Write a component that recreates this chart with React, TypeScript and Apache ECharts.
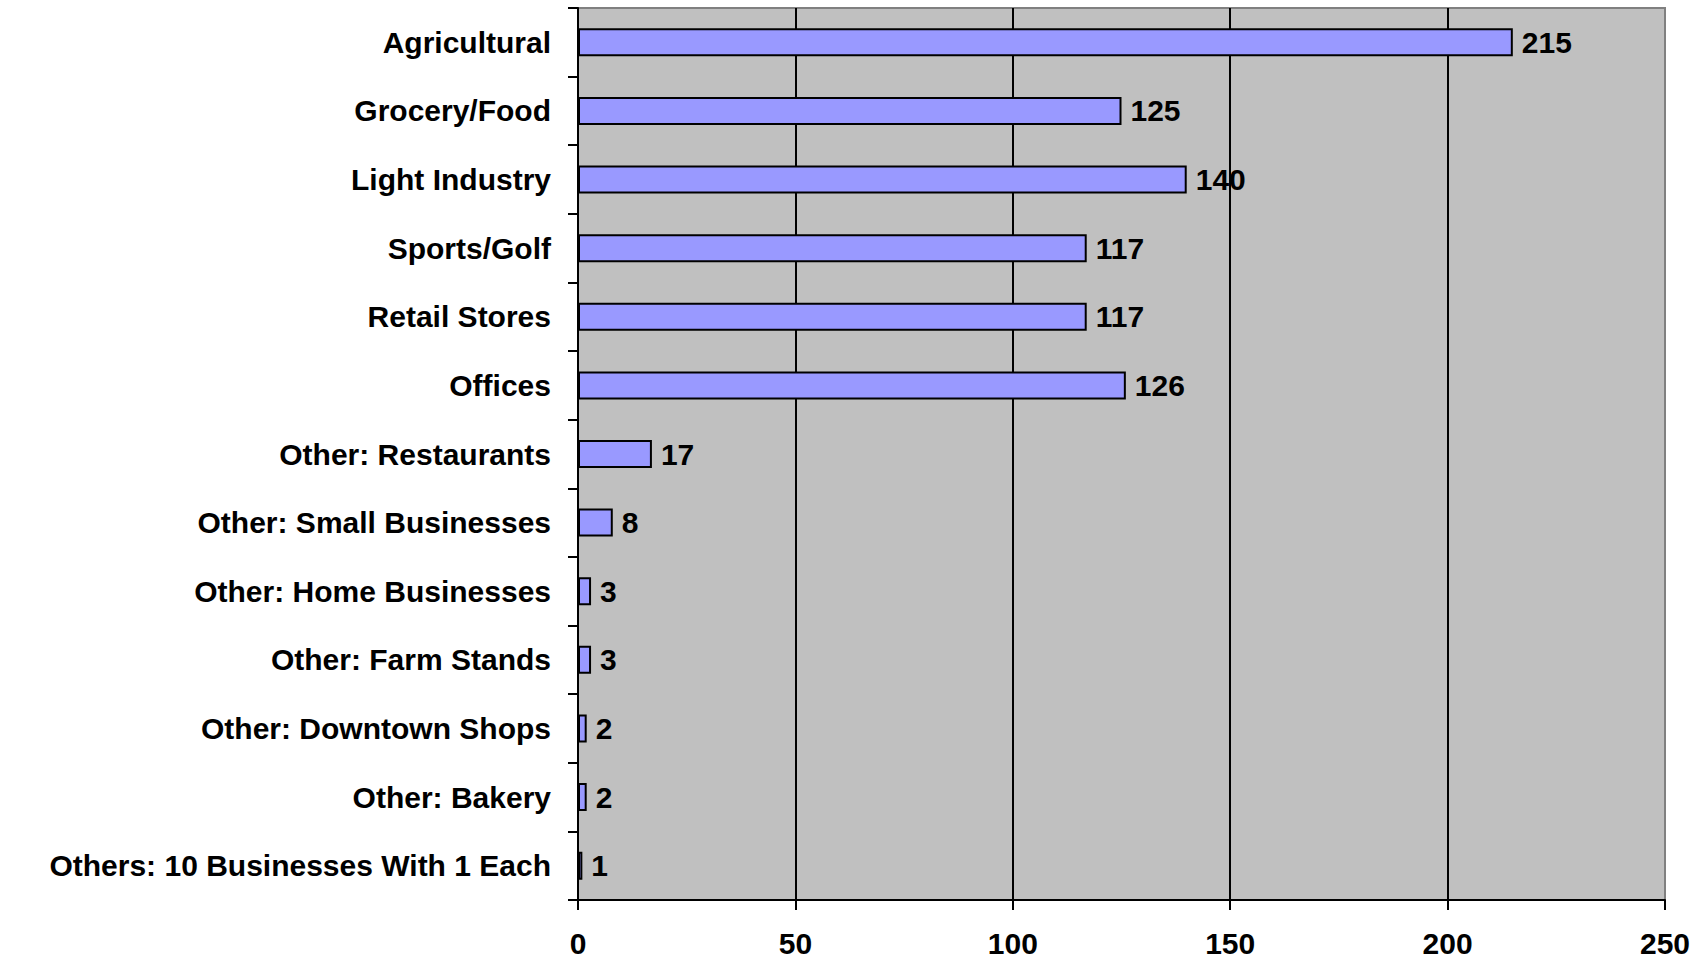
import React, { useEffect, useRef } from "react";
import * as echarts from "echarts";

const categories = [
  "Agricultural",
  "Grocery/Food",
  "Light Industry",
  "Sports/Golf",
  "Retail Stores",
  "Offices",
  "Other: Restaurants",
  "Other: Small Businesses",
  "Other: Home Businesses",
  "Other: Farm Stands",
  "Other: Downtown Shops",
  "Other: Bakery",
  "Others: 10 Businesses With 1 Each",
];
const values = [215, 125, 140, 117, 117, 126, 17, 8, 3, 3, 2, 2, 1];
const xMin = 0;
const xMax = 250;
const xInterval = 50;

const FONT = "'Liberation Sans', Arial, sans-serif";

export default function App() {
  const ref = useRef<HTMLDivElement>(null);
  useEffect(() => {
    if (!ref.current) return;
    const chart = echarts.init(ref.current, null, { renderer: "svg" });
    chart.setOption({
      animation: false,
      backgroundColor: "#ffffff",
      grid: {
        left: 578,
        right: 39,
        top: 8,
        bottom: 60,
        show: true,
        backgroundColor: "#C0C0C0",
        borderColor: "#808080",
        borderWidth: 2,
      },
      xAxis: {
        type: "value",
        min: xMin,
        max: xMax,
        interval: xInterval,
        axisLine: { show: true, onZero: false, lineStyle: { color: "#000", width: 2 } },
        axisTick: { show: true, length: 10, lineStyle: { color: "#000", width: 2 } },
        axisLabel: {
          color: "#000",
          fontFamily: FONT,
          fontWeight: "bold",
          fontSize: 30,
          margin: 28,
        },
        splitLine: {
          show: true,
          showMinLine: false,
          showMaxLine: false,
          lineStyle: { color: "#000", width: 2 },
        },
      },
      yAxis: {
        type: "category",
        data: categories,
        inverse: true,
        axisLine: { show: true, lineStyle: { color: "#000", width: 2 } },
        axisTick: { show: true, length: 10, lineStyle: { color: "#000", width: 2 } },
        axisLabel: {
          color: "#000",
          fontFamily: FONT,
          fontWeight: "bold",
          fontSize: 30,
          margin: 27,
        },
        splitLine: { show: false },
      },
      series: [
        {
          type: "bar",
          data: values,
          barWidth: 28,
          itemStyle: { color: "#9999FF", borderColor: "#000", borderWidth: 2 },
          label: {
            show: true,
            position: "right",
            distance: 9,
            color: "#000",
            fontFamily: FONT,
            fontWeight: "bold",
            fontSize: 30,
          },
        },
      ],
    });
    return () => chart.dispose();
  }, []);
  return (
    <div
      ref={ref}
      style={{ position: "fixed", left: 0, top: 0, width: 1704, height: 960 }}
    />
  );
}
